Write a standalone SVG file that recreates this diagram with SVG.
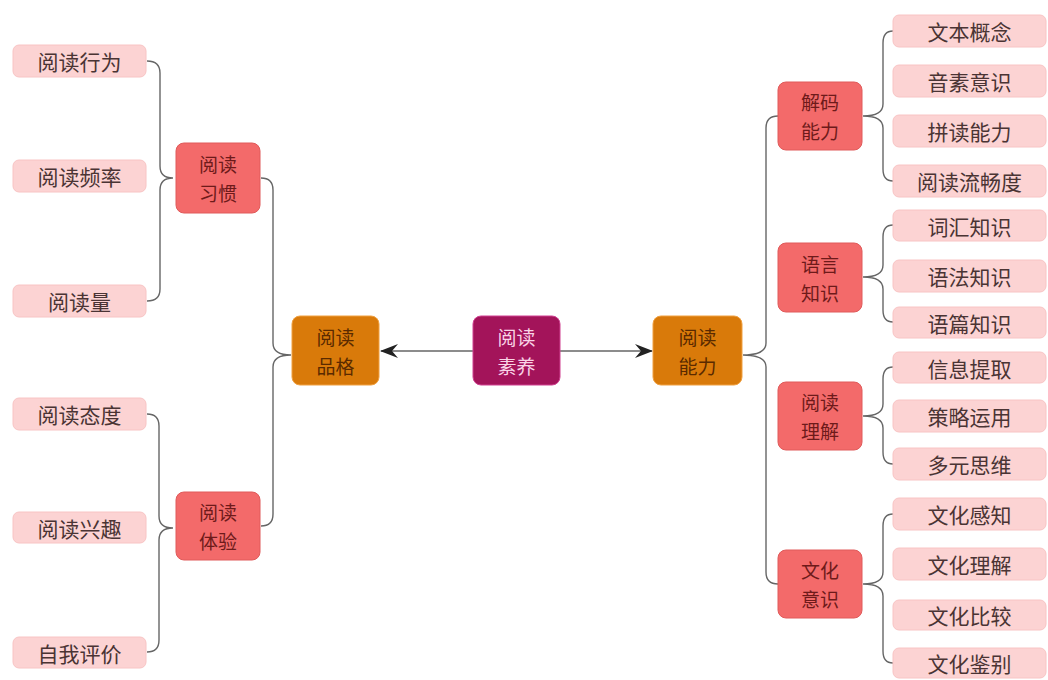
<svg xmlns="http://www.w3.org/2000/svg" width="1048" height="680" viewBox="0 0 1048 680">
<style>
.leaf rect{fill:#fcd3d3;stroke:#f8c4c4;stroke-width:1}
.leaf text{fill:#4a3434;font-size:21px}
.mid rect{fill:#f36a6a;stroke:#e05a5a;stroke-width:1}
.mid text{fill:#6e1a1a;font-size:19px}
.top rect{fill:#d97a0a;stroke:#f0a040;stroke-width:1}
.top text{fill:#5a2a00;font-size:19px}
.root rect{fill:#a3145a;stroke:#d04090;stroke-width:1}
.root text{fill:#f9d3e6;font-size:19px}
text{font-family:"Noto Sans CJK SC","Noto Sans CJK TC",sans-serif;text-anchor:middle;dominant-baseline:central}
.conn path,.conn line{fill:none;stroke:#666;stroke-width:1.4}
</style>
<defs>
<marker id="ah" viewBox="0 0 18 14" refX="17" refY="7" markerWidth="18" markerHeight="14" markerUnits="userSpaceOnUse" orient="auto">
<path d="M0,0 L18,7 L0,14 L6,7 Z" fill="#222"/>
</marker>
</defs>
<rect width="1048" height="680" fill="#fff"/>
<g class="conn">
<line x1="473" y1="351" x2="381" y2="351" marker-end="url(#ah)"/>
<line x1="560" y1="351" x2="652" y2="351" marker-end="url(#ah)"/>
<path d="M147,61 Q160,61 160,73 L160,166 Q160,178 173,178 Q160,178 160,190 L160,289 Q160,301 147,301"/>
<path d="M147,414 Q159,414 159,426 L159,516 Q159,528 173,528 Q159,528 159,540 L159,640 Q159,652 147,652"/>
<path d="M261,178 Q273,178 273,190 L273,343 Q273,355 291,355 Q273,355 273,367 L273,514 Q273,526 261,526"/>
<path d="M778,116 Q766,116 766,128 L766,343 Q766,355 743,355 Q766,355 766,367 L766,572 Q766,584 778,584"/>
<path d="M893,31 Q883,31 883,43 L883,104 Q883,116 863,116 Q883,116 883,128 L883,169 Q883,181 893,181"/>
<path d="M893,225 Q883,225 883,237 L883,265 Q883,277 863,277 Q883,277 883,289 L883,310 Q883,322 893,322"/>
<path d="M893,367 Q883,367 883,379 L883,404 Q883,416 863,416 Q883,416 883,428 L883,452 Q883,464 893,464"/>
<path d="M893,514 Q883,514 883,526 L883,572 Q883,584 863,584 Q883,584 883,596 L883,651 Q883,663 893,663"/>
</g>
<g id="n-root" class="root"><rect x="473" y="316" width="87" height="69" rx="8"/><text x="516.5" y="336.5">阅读</text><text x="516.5" y="365.5">素养</text></g>
<g id="n-pinge" class="top"><rect x="292" y="316" width="87" height="69" rx="8"/><text x="335.5" y="336.5">阅读</text><text x="335.5" y="365.5">品格</text></g>
<g id="n-nengli" class="top"><rect x="653" y="316" width="89" height="69" rx="8"/><text x="697.5" y="336.5">阅读</text><text x="697.5" y="365.5">能力</text></g>
<g id="n-xiguan" class="mid"><rect x="176" y="143" width="84" height="70" rx="8"/><text x="218" y="163.5">阅读</text><text x="218" y="192.5">习惯</text></g>
<g id="n-tiyan" class="mid"><rect x="176" y="492" width="84" height="68" rx="8"/><text x="218" y="511.5">阅读</text><text x="218" y="540.5">体验</text></g>
<g id="n-jiema" class="mid"><rect x="778" y="82" width="84" height="68" rx="8"/><text x="820" y="101.5">解码</text><text x="820" y="130.5">能力</text></g>
<g id="n-yuyan" class="mid"><rect x="778" y="243" width="84" height="69" rx="8"/><text x="820" y="263">语言</text><text x="820" y="292">知识</text></g>
<g id="n-lijie" class="mid"><rect x="778" y="382" width="84" height="68" rx="8"/><text x="820" y="401.5">阅读</text><text x="820" y="430.5">理解</text></g>
<g id="n-wenhua" class="mid"><rect x="778" y="550" width="84" height="68" rx="8"/><text x="820" y="569.5">文化</text><text x="820" y="598.5">意识</text></g>
<g id="l1" class="leaf"><rect x="13" y="45" width="133" height="32" rx="6"/><text x="79.5" y="61">阅读行为</text></g>
<g id="l2" class="leaf"><rect x="13" y="160" width="133" height="32" rx="6"/><text x="79.5" y="176">阅读频率</text></g>
<g id="l3" class="leaf"><rect x="13" y="285" width="133" height="32" rx="6"/><text x="79.5" y="301">阅读量</text></g>
<g id="l4" class="leaf"><rect x="13" y="398" width="133" height="32" rx="6"/><text x="79.5" y="414">阅读态度</text></g>
<g id="l5" class="leaf"><rect x="13" y="512" width="133" height="31" rx="6"/><text x="79.5" y="527.5">阅读兴趣</text></g>
<g id="l6" class="leaf"><rect x="13" y="637" width="133" height="31" rx="6"/><text x="79.5" y="652.5">自我评价</text></g>
<g id="r1" class="leaf"><rect x="893" y="15" width="153" height="32" rx="6"/><text x="969.5" y="31">文本概念</text></g>
<g id="r2" class="leaf"><rect x="893" y="65" width="153" height="32" rx="6"/><text x="969.5" y="81">音素意识</text></g>
<g id="r3" class="leaf"><rect x="893" y="115" width="153" height="32" rx="6"/><text x="969.5" y="131">拼读能力</text></g>
<g id="r4" class="leaf"><rect x="893" y="165" width="153" height="32" rx="6"/><text x="969.5" y="181">阅读流畅度</text></g>
<g id="r5" class="leaf"><rect x="893" y="210" width="153" height="31" rx="6"/><text x="969.5" y="225.5">词汇知识</text></g>
<g id="r6" class="leaf"><rect x="893" y="260" width="153" height="32" rx="6"/><text x="969.5" y="276">语法知识</text></g>
<g id="r7" class="leaf"><rect x="893" y="307" width="153" height="31" rx="6"/><text x="969.5" y="322.5">语篇知识</text></g>
<g id="r8" class="leaf"><rect x="893" y="352" width="153" height="31" rx="6"/><text x="969.5" y="367.5">信息提取</text></g>
<g id="r9" class="leaf"><rect x="893" y="400" width="153" height="32" rx="6"/><text x="969.5" y="416">策略运用</text></g>
<g id="r10" class="leaf"><rect x="893" y="448" width="153" height="32" rx="6"/><text x="969.5" y="464">多元思维</text></g>
<g id="r11" class="leaf"><rect x="893" y="498" width="153" height="32" rx="6"/><text x="969.5" y="514">文化感知</text></g>
<g id="r12" class="leaf"><rect x="893" y="548" width="153" height="32" rx="6"/><text x="969.5" y="564">文化理解</text></g>
<g id="r13" class="leaf"><rect x="893" y="600" width="153" height="30" rx="6"/><text x="969.5" y="615">文化比较</text></g>
<g id="r14" class="leaf"><rect x="893" y="648" width="153" height="30" rx="6"/><text x="969.5" y="663">文化鉴别</text></g>
</svg>
